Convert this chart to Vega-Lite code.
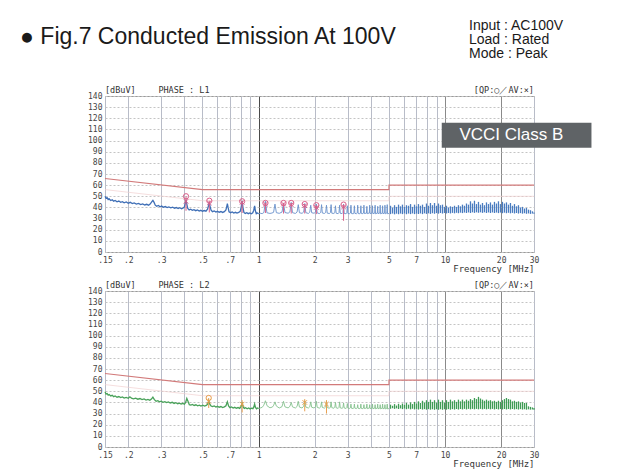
{
"$schema": "https://vega.github.io/schema/vega-lite/v6.json",
"background": "white",
"padding": {"left": 20, "top": 18, "right": 5, "bottom": 5},
"title": {"text": "● Fig.7  Conducted Emission At 100V", "anchor": "start", "frame": "bounds", "dx": -67, "dy": 30, "offset": 0, "font": "Liberation Sans", "fontSize": 23, "fontWeight": "normal", "color": "#1a1a1a"},
"spacing": 6,
"datasets": {
"lim": [{"i":0,"f":0.15,"qp":66,"av":56},{"i":1,"f":0.5,"qp":56,"av":46},{"i":2,"f":5,"qp":56,"av":46},{"i":3,"f":5,"qp":60,"av":50},{"i":4,"f":30,"qp":60,"av":50}],
"l1a": [{"f":0.150,"v":50.0},{"f":0.152,"v":48.2},{"f":0.154,"v":48.8},{"f":0.156,"v":47.0},{"f":0.158,"v":47.6},{"f":0.161,"v":46.2},{"f":0.164,"v":46.9},{"f":0.167,"v":45.6},{"f":0.170,"v":46.2},{"f":0.174,"v":45.0},{"f":0.178,"v":45.7},{"f":0.182,"v":44.6},{"f":0.186,"v":45.2},{"f":0.190,"v":44.2},{"f":0.195,"v":44.9},{"f":0.200,"v":43.8},{"f":0.205,"v":44.6},{"f":0.210,"v":43.5},{"f":0.215,"v":44.0},{"f":0.221,"v":43.0},{"f":0.227,"v":43.6},{"f":0.233,"v":42.5},{"f":0.239,"v":43.1},{"f":0.245,"v":42.2},{"f":0.251,"v":42.8},{"f":0.257,"v":42.0},{"f":0.262,"v":43.0},{"f":0.267,"v":45.0},{"f":0.271,"v":46.3},{"f":0.275,"v":44.5},{"f":0.279,"v":42.0},{"f":0.284,"v":41.0},{"f":0.290,"v":41.7},{"f":0.296,"v":40.6},{"f":0.302,"v":41.2},{"f":0.309,"v":40.2},{"f":0.316,"v":40.8},{"f":0.323,"v":39.9},{"f":0.330,"v":40.5},{"f":0.338,"v":39.6},{"f":0.346,"v":40.2},{"f":0.354,"v":39.3},{"f":0.362,"v":39.9},{"f":0.370,"v":39.0},{"f":0.378,"v":39.7},{"f":0.386,"v":38.8},{"f":0.394,"v":39.5},{"f":0.400,"v":40.5},{"f":0.404,"v":43.5},{"f":0.408,"v":47.0},{"f":0.412,"v":43.0},{"f":0.417,"v":39.0},{"f":0.424,"v":37.8},{"f":0.432,"v":38.4},{"f":0.441,"v":37.4},{"f":0.450,"v":38.0},{"f":0.460,"v":37.1},{"f":0.470,"v":37.7},{"f":0.480,"v":36.8},{"f":0.490,"v":37.4},{"f":0.500,"v":36.6},{"f":0.511,"v":37.2},{"f":0.522,"v":36.6},{"f":0.532,"v":38.5},{"f":0.539,"v":41.5},{"f":0.544,"v":44.5},{"f":0.549,"v":41.0},{"f":0.556,"v":37.5},{"f":0.566,"v":36.2},{"f":0.578,"v":36.8},{"f":0.590,"v":35.9},{"f":0.602,"v":36.5},{"f":0.615,"v":35.7},{"f":0.628,"v":36.3},{"f":0.641,"v":35.5},{"f":0.655,"v":36.2},{"f":0.668,"v":37.8},{"f":0.675,"v":41.0},{"f":0.680,"v":43.5},{"f":0.686,"v":40.0},{"f":0.694,"v":36.0},{"f":0.708,"v":35.3},{"f":0.722,"v":35.9},{"f":0.736,"v":35.0},{"f":0.751,"v":35.6},{"f":0.766,"v":34.9},{"f":0.782,"v":35.5},{"f":0.797,"v":36.5},{"f":0.807,"v":40.5},{"f":0.816,"v":46.0},{"f":0.824,"v":40.0},{"f":0.834,"v":35.5},{"f":0.848,"v":34.6},{"f":0.864,"v":35.2},{"f":0.880,"v":34.4},{"f":0.897,"v":35.0},{"f":0.914,"v":34.3},{"f":0.930,"v":35.2},{"f":0.942,"v":37.5},{"f":0.952,"v":41.5},{"f":0.961,"v":37.0},{"f":0.972,"v":34.4},{"f":0.986,"v":35.0},{"f":1.000,"v":34.3}],
"l1b": [{"f":1.0,"v":34.3},{"f":1.020,"v":34.8},{"f":1.045,"v":34.4},{"f":1.068,"v":35.5},{"f":1.088,"v":45.5},{"f":1.108,"v":35.2},{"f":1.15,"v":34.6},{"f":1.180,"v":35.0},{"f":1.203,"v":35.6},{"f":1.224,"v":43.0},{"f":1.245,"v":35.3},{"f":1.29,"v":34.7},{"f":1.335,"v":35.8},{"f":1.360,"v":44.0},{"f":1.385,"v":35.4},{"f":1.44,"v":34.8},{"f":1.472,"v":36.0},{"f":1.496,"v":44.5},{"f":1.520,"v":35.3},{"f":1.575,"v":34.6},{"f":1.608,"v":35.8},{"f":1.632,"v":42.5},{"f":1.656,"v":35.2},{"f":1.71,"v":34.7},{"f":1.745,"v":35.9},{"f":1.768,"v":43.5},{"f":1.792,"v":35.3},{"f":1.85,"v":34.6},{"f":1.882,"v":35.8},{"f":1.904,"v":42.0},{"f":1.926,"v":35.2},{"f":1.985,"v":34.8},{"f":2.018,"v":35.8},{"f":2.040,"v":43.0},{"f":2.062,"v":35.0},{"f":2.12,"v":34.5},{"f":2.155,"v":35.6},{"f":2.176,"v":42.5},{"f":2.197,"v":35.0},{"f":2.255,"v":34.6},{"f":2.290,"v":35.5},{"f":2.312,"v":42.0},{"f":2.334,"v":34.9},{"f":2.40,"v":34.5},{"f":2.427,"v":35.4},{"f":2.448,"v":42.5},{"f":2.469,"v":34.8},{"f":2.535,"v":34.6},{"f":2.562,"v":35.3},{"f":2.584,"v":41.5},{"f":2.606,"v":34.8},{"f":2.67,"v":34.4},{"f":2.698,"v":35.2},{"f":2.720,"v":42.0},{"f":2.742,"v":34.7},{"f":2.805,"v":34.5},{"f":2.834,"v":35.4},{"f":2.856,"v":43.0},{"f":2.878,"v":34.6},{"f":2.945,"v":34.3},{"f":2.972,"v":35.1},{"f":2.992,"v":41.5},{"f":3.012,"v":34.6},{"f":3.080,"v":34.4},{"f":3.108,"v":35.0},{"f":3.128,"v":42.0},{"f":3.148,"v":34.5},{"f":3.218,"v":34.3},{"f":3.244,"v":35.0},{"f":3.264,"v":41.5},{"f":3.284,"v":34.6},{"f":3.352,"v":34.4},{"f":3.380,"v":35.0},{"f":3.400,"v":42.0},{"f":3.420,"v":34.5},{"f":3.490,"v":34.3},{"f":3.516,"v":35.0},{"f":3.536,"v":41.5},{"f":3.556,"v":34.5},{"f":3.624,"v":34.4},{"f":3.652,"v":35.0},{"f":3.672,"v":42.0},{"f":3.692,"v":34.5},{"f":3.788,"v":34.9},{"f":3.808,"v":41.0},{"f":3.828,"v":34.4},{"f":3.924,"v":35.0},{"f":3.944,"v":42.0},{"f":3.964,"v":34.4},{"f":4.060,"v":35.0},{"f":4.080,"v":41.5},{"f":4.100,"v":34.4},{"f":4.196,"v":34.9},{"f":4.216,"v":42.0},{"f":4.236,"v":34.3},{"f":4.332,"v":34.9},{"f":4.352,"v":41.0},{"f":4.372,"v":34.4},{"f":4.468,"v":35.0},{"f":4.488,"v":42.0},{"f":4.508,"v":34.3},{"f":4.604,"v":34.9},{"f":4.624,"v":41.5},{"f":4.644,"v":34.4},{"f":4.740,"v":34.9},{"f":4.760,"v":42.0},{"f":4.780,"v":34.3},{"f":4.876,"v":35.0},{"f":4.896,"v":42.5},{"f":4.916,"v":34.3},{"f":5.000,"v":34.6}],
"l1c": [{"f":5.10,"lo":34.0,"hi":41.5},{"f":5.23,"lo":34.5,"hi":40.0},{"f":5.36,"lo":33.8,"hi":42.0},{"f":5.49,"lo":34.4,"hi":40.5},{"f":5.63,"lo":33.9,"hi":42.5},{"f":5.77,"lo":34.5,"hi":41.0},{"f":5.91,"lo":34.0,"hi":42.5},{"f":6.06,"lo":34.6,"hi":40.5},{"f":6.21,"lo":33.9,"hi":42.0},{"f":6.37,"lo":34.5,"hi":41.5},{"f":6.53,"lo":34.0,"hi":43.0},{"f":6.69,"lo":34.6,"hi":40.5},{"f":6.86,"lo":34.0,"hi":42.5},{"f":7.03,"lo":34.5,"hi":41.0},{"f":7.20,"lo":34.1,"hi":43.0},{"f":7.38,"lo":34.6,"hi":41.5},{"f":7.57,"lo":34.0,"hi":42.5},{"f":7.76,"lo":34.7,"hi":40.5},{"f":7.95,"lo":34.2,"hi":43.5},{"f":8.15,"lo":34.7,"hi":41.5},{"f":8.35,"lo":34.2,"hi":44.0},{"f":8.56,"lo":34.8,"hi":42.0},{"f":8.78,"lo":34.3,"hi":44.0},{"f":9.00,"lo":34.9,"hi":41.5},{"f":9.22,"lo":34.4,"hi":43.5},{"f":9.45,"lo":35.0,"hi":42.0},{"f":9.69,"lo":34.5,"hi":42.5},{"f":9.93,"lo":35.0,"hi":40.5},{"f":10.18,"lo":34.6,"hi":41.5},{"f":10.43,"lo":35.0,"hi":40.0},{"f":10.69,"lo":34.6,"hi":41.0},{"f":10.96,"lo":35.1,"hi":40.5},{"f":11.24,"lo":34.7,"hi":41.5},{"f":11.52,"lo":35.2,"hi":40.5},{"f":11.80,"lo":34.8,"hi":42.0},{"f":12.10,"lo":35.3,"hi":41.0},{"f":12.40,"lo":34.9,"hi":42.5},{"f":12.71,"lo":35.4,"hi":41.5},{"f":13.03,"lo":35.0,"hi":43.5},{"f":13.36,"lo":35.5,"hi":42.5},{"f":13.69,"lo":35.0,"hi":45.5},{"f":14.03,"lo":35.6,"hi":43.5},{"f":14.38,"lo":35.1,"hi":46.0},{"f":14.74,"lo":35.6,"hi":43.0},{"f":15.11,"lo":35.2,"hi":45.0},{"f":15.49,"lo":35.6,"hi":42.5},{"f":15.88,"lo":35.1,"hi":44.0},{"f":16.27,"lo":35.6,"hi":42.0},{"f":16.68,"lo":35.0,"hi":44.5},{"f":17.10,"lo":35.5,"hi":43.0},{"f":17.52,"lo":35.0,"hi":44.5},{"f":17.96,"lo":35.5,"hi":42.5},{"f":18.41,"lo":35.0,"hi":45.0},{"f":18.87,"lo":35.4,"hi":43.5},{"f":19.34,"lo":34.9,"hi":45.5},{"f":19.83,"lo":35.4,"hi":43.0},{"f":20.32,"lo":34.8,"hi":45.0},{"f":20.83,"lo":35.3,"hi":43.5},{"f":21.35,"lo":34.8,"hi":44.5},{"f":21.89,"lo":35.2,"hi":42.5},{"f":22.43,"lo":34.7,"hi":44.0},{"f":22.99,"lo":35.1,"hi":41.5},{"f":23.57,"lo":34.6,"hi":43.0},{"f":24.16,"lo":35.0,"hi":41.0},{"f":24.76,"lo":34.5,"hi":42.0},{"f":25.38,"lo":34.9,"hi":40.0},{"f":26.02,"lo":34.4,"hi":40.5},{"f":26.67,"lo":34.8,"hi":39.0},{"f":27.33,"lo":34.3,"hi":39.5},{"f":28.02,"lo":34.6,"hi":38.0},{"f":28.72,"lo":34.2,"hi":37.5},{"f":29.43,"lo":34.5,"hi":36.5},{"f":30.00,"lo":34.3,"hi":35.5}],
"l2a": [{"f":0.150,"v":49.5},{"f":0.152,"v":47.5},{"f":0.154,"v":48.0},{"f":0.156,"v":46.5},{"f":0.158,"v":47.0},{"f":0.161,"v":45.8},{"f":0.164,"v":46.4},{"f":0.167,"v":45.2},{"f":0.170,"v":45.8},{"f":0.174,"v":44.7},{"f":0.178,"v":45.3},{"f":0.182,"v":44.3},{"f":0.186,"v":44.9},{"f":0.190,"v":43.9},{"f":0.195,"v":44.5},{"f":0.200,"v":43.7},{"f":0.204,"v":45.0},{"f":0.208,"v":43.8},{"f":0.213,"v":43.3},{"f":0.219,"v":43.9},{"f":0.225,"v":42.9},{"f":0.231,"v":43.5},{"f":0.237,"v":42.5},{"f":0.243,"v":43.1},{"f":0.249,"v":42.1},{"f":0.255,"v":42.7},{"f":0.261,"v":41.9},{"f":0.266,"v":43.0},{"f":0.271,"v":44.8},{"f":0.276,"v":42.5},{"f":0.282,"v":41.0},{"f":0.288,"v":41.6},{"f":0.294,"v":40.5},{"f":0.300,"v":41.1},{"f":0.307,"v":40.1},{"f":0.314,"v":40.7},{"f":0.321,"v":39.8},{"f":0.328,"v":40.4},{"f":0.336,"v":39.5},{"f":0.344,"v":40.1},{"f":0.352,"v":39.1},{"f":0.360,"v":39.7},{"f":0.368,"v":38.8},{"f":0.376,"v":39.4},{"f":0.384,"v":38.5},{"f":0.392,"v":39.2},{"f":0.400,"v":38.4},{"f":0.406,"v":40.0},{"f":0.412,"v":43.5},{"f":0.418,"v":41.0},{"f":0.425,"v":38.0},{"f":0.433,"v":37.6},{"f":0.442,"v":38.2},{"f":0.451,"v":37.3},{"f":0.461,"v":37.9},{"f":0.471,"v":37.0},{"f":0.481,"v":37.6},{"f":0.491,"v":36.8},{"f":0.502,"v":37.5},{"f":0.513,"v":36.7},{"f":0.524,"v":37.3},{"f":0.533,"v":38.5},{"f":0.540,"v":41.5},{"f":0.547,"v":38.5},{"f":0.556,"v":36.8},{"f":0.566,"v":36.2},{"f":0.578,"v":36.8},{"f":0.590,"v":35.9},{"f":0.602,"v":36.5},{"f":0.615,"v":35.7},{"f":0.628,"v":36.3},{"f":0.641,"v":35.4},{"f":0.655,"v":36.0},{"f":0.668,"v":37.0},{"f":0.680,"v":40.5},{"f":0.690,"v":36.8},{"f":0.702,"v":35.3},{"f":0.716,"v":35.9},{"f":0.730,"v":35.0},{"f":0.745,"v":35.6},{"f":0.760,"v":34.8},{"f":0.776,"v":35.4},{"f":0.792,"v":34.7},{"f":0.806,"v":36.5},{"f":0.816,"v":40.0},{"f":0.826,"v":36.0},{"f":0.838,"v":34.6},{"f":0.852,"v":35.2},{"f":0.868,"v":34.3},{"f":0.884,"v":35.0},{"f":0.900,"v":34.2},{"f":0.916,"v":34.9},{"f":0.932,"v":34.4},{"f":0.943,"v":36.0},{"f":0.952,"v":38.5},{"f":0.962,"v":35.5},{"f":0.975,"v":34.3},{"f":0.988,"v":35.0},{"f":1.000,"v":34.5}],
"l2b": [{"f":1.000,"v":34.5},{"f":1.020,"v":35.0},{"f":1.045,"v":35.6},{"f":1.066,"v":37.5},{"f":1.088,"v":41.5},{"f":1.110,"v":37.0},{"f":1.150,"v":35.2},{"f":1.185,"v":35.8},{"f":1.205,"v":37.5},{"f":1.224,"v":40.5},{"f":1.244,"v":36.8},{"f":1.29,"v":35.0},{"f":1.335,"v":36.2},{"f":1.360,"v":41.0},{"f":1.385,"v":36.0},{"f":1.44,"v":35.1},{"f":1.472,"v":36.5},{"f":1.496,"v":40.0},{"f":1.520,"v":36.0},{"f":1.575,"v":35.0},{"f":1.608,"v":36.4},{"f":1.632,"v":41.0},{"f":1.656,"v":35.8},{"f":1.71,"v":35.0},{"f":1.745,"v":36.6},{"f":1.768,"v":41.5},{"f":1.792,"v":35.8},{"f":1.85,"v":35.0},{"f":1.882,"v":36.2},{"f":1.904,"v":40.5},{"f":1.926,"v":35.7},{"f":1.985,"v":35.0},{"f":2.018,"v":36.2},{"f":2.040,"v":41.0},{"f":2.062,"v":35.6},{"f":2.12,"v":34.9},{"f":2.155,"v":36.0},{"f":2.176,"v":40.5},{"f":2.197,"v":35.5},{"f":2.255,"v":34.9},{"f":2.290,"v":36.0},{"f":2.312,"v":41.5},{"f":2.334,"v":35.4},{"f":2.40,"v":34.8},{"f":2.427,"v":35.8},{"f":2.448,"v":40.5},{"f":2.469,"v":35.3},{"f":2.535,"v":34.8},{"f":2.562,"v":35.6},{"f":2.584,"v":40.0},{"f":2.606,"v":35.2},{"f":2.67,"v":34.7},{"f":2.698,"v":35.5},{"f":2.720,"v":40.5},{"f":2.742,"v":35.1},{"f":2.805,"v":34.7},{"f":2.834,"v":35.4},{"f":2.856,"v":39.5},{"f":2.878,"v":35.0},{"f":2.945,"v":34.6},{"f":2.972,"v":35.3},{"f":2.992,"v":39.0},{"f":3.012,"v":34.9},{"f":3.080,"v":34.6},{"f":3.108,"v":35.2},{"f":3.128,"v":38.5},{"f":3.148,"v":34.8},{"f":3.218,"v":34.5},{"f":3.244,"v":35.1},{"f":3.264,"v":38.5},{"f":3.284,"v":34.8},{"f":3.352,"v":34.5},{"f":3.380,"v":35.0},{"f":3.400,"v":38.0},{"f":3.420,"v":34.7},{"f":3.490,"v":34.4},{"f":3.516,"v":35.0},{"f":3.536,"v":38.5},{"f":3.556,"v":34.6},{"f":3.624,"v":34.4},{"f":3.652,"v":35.0},{"f":3.672,"v":38.0},{"f":3.692,"v":34.5},{"f":3.788,"v":35.0},{"f":3.808,"v":38.5},{"f":3.828,"v":34.4},{"f":3.924,"v":35.0},{"f":3.944,"v":38.0},{"f":3.964,"v":34.4},{"f":4.060,"v":35.0},{"f":4.080,"v":38.5},{"f":4.100,"v":34.3},{"f":4.196,"v":34.9},{"f":4.216,"v":38.0},{"f":4.236,"v":34.3},{"f":4.332,"v":34.9},{"f":4.352,"v":38.5},{"f":4.372,"v":34.3},{"f":4.468,"v":34.9},{"f":4.488,"v":38.0},{"f":4.508,"v":34.3},{"f":4.604,"v":34.9},{"f":4.624,"v":38.5},{"f":4.644,"v":34.3},{"f":4.740,"v":34.8},{"f":4.760,"v":38.0},{"f":4.780,"v":34.2},{"f":4.876,"v":34.8},{"f":4.896,"v":38.5},{"f":4.916,"v":34.2},{"f":5.000,"v":34.5}],
"l2c": [{"f":5.10,"lo":34.3,"hi":38.0},{"f":5.23,"lo":34.8,"hi":37.0},{"f":5.36,"lo":34.2,"hi":38.5},{"f":5.49,"lo":34.7,"hi":37.2},{"f":5.63,"lo":34.1,"hi":38.8},{"f":5.77,"lo":34.6,"hi":37.5},{"f":5.91,"lo":34.0,"hi":39.0},{"f":6.06,"lo":34.5,"hi":37.8},{"f":6.21,"lo":33.9,"hi":39.5},{"f":6.37,"lo":34.4,"hi":38.0},{"f":6.53,"lo":33.8,"hi":40.0},{"f":6.69,"lo":34.3,"hi":38.5},{"f":6.86,"lo":33.7,"hi":40.5},{"f":7.03,"lo":34.2,"hi":39.0},{"f":7.20,"lo":33.6,"hi":41.0},{"f":7.38,"lo":34.1,"hi":39.5},{"f":7.57,"lo":33.6,"hi":41.5},{"f":7.76,"lo":34.0,"hi":40.0},{"f":7.95,"lo":33.5,"hi":42.0},{"f":8.15,"lo":34.0,"hi":40.5},{"f":8.35,"lo":33.5,"hi":42.5},{"f":8.56,"lo":33.9,"hi":40.5},{"f":8.78,"lo":33.4,"hi":42.0},{"f":9.00,"lo":33.9,"hi":40.0},{"f":9.22,"lo":33.4,"hi":42.5},{"f":9.45,"lo":33.9,"hi":40.5},{"f":9.69,"lo":33.4,"hi":42.0},{"f":9.93,"lo":33.9,"hi":40.0},{"f":10.18,"lo":33.5,"hi":42.0},{"f":10.43,"lo":34.0,"hi":40.5},{"f":10.69,"lo":33.5,"hi":42.5},{"f":10.96,"lo":34.0,"hi":41.0},{"f":11.24,"lo":33.6,"hi":42.0},{"f":11.52,"lo":34.1,"hi":40.5},{"f":11.80,"lo":33.6,"hi":42.5},{"f":12.10,"lo":34.1,"hi":41.0},{"f":12.40,"lo":33.7,"hi":42.5},{"f":12.71,"lo":34.2,"hi":41.0},{"f":13.03,"lo":33.7,"hi":42.5},{"f":13.36,"lo":34.2,"hi":41.5},{"f":13.69,"lo":33.8,"hi":43.0},{"f":14.03,"lo":34.2,"hi":42.0},{"f":14.38,"lo":33.8,"hi":44.0},{"f":14.74,"lo":34.2,"hi":43.0},{"f":15.11,"lo":33.8,"hi":45.0},{"f":15.49,"lo":34.2,"hi":43.5},{"f":15.88,"lo":33.8,"hi":42.5},{"f":16.27,"lo":34.2,"hi":41.5},{"f":16.68,"lo":33.8,"hi":42.5},{"f":17.10,"lo":34.2,"hi":41.5},{"f":17.52,"lo":33.8,"hi":42.0},{"f":17.96,"lo":34.2,"hi":41.0},{"f":18.41,"lo":33.7,"hi":41.5},{"f":18.87,"lo":34.1,"hi":40.5},{"f":19.34,"lo":33.7,"hi":41.5},{"f":19.83,"lo":34.1,"hi":40.5},{"f":20.32,"lo":33.7,"hi":42.0},{"f":20.83,"lo":34.1,"hi":43.0},{"f":21.35,"lo":33.7,"hi":44.0},{"f":21.89,"lo":34.1,"hi":43.0},{"f":22.43,"lo":33.7,"hi":42.5},{"f":22.99,"lo":34.1,"hi":41.0},{"f":23.57,"lo":33.7,"hi":41.5},{"f":24.16,"lo":34.0,"hi":40.5},{"f":24.76,"lo":33.6,"hi":41.0},{"f":25.38,"lo":34.0,"hi":40.0},{"f":26.02,"lo":33.6,"hi":40.5},{"f":26.67,"lo":33.9,"hi":39.5},{"f":27.33,"lo":33.5,"hi":39.5},{"f":28.02,"lo":33.8,"hi":36.5},{"f":28.72,"lo":33.5,"hi":36.0},{"f":29.43,"lo":33.7,"hi":35.5},{"f":30.00,"lo":33.5,"hi":35.0}],
"m1": [{"f":0.408,"qp":50,"av":45.5,"hi":50,"lo":37},{"f":0.544,"qp":46,"av":44,"hi":46,"lo":35.5},{"f":0.816,"qp":45.5,"av":44.5,"hi":45.5,"lo":35},{"f":1.088,"qp":44,"av":43,"hi":44,"lo":35},{"f":1.36,"qp":44,"av":43,"hi":44,"lo":34.5},{"f":1.496,"qp":44,"av":42.5,"hi":44,"lo":34.5},{"f":1.768,"qp":43,"av":41.5,"hi":43,"lo":34.5},{"f":2.04,"qp":42,"av":40,"hi":42,"lo":34},{"f":2.856,"qp":42.5,"av":40.5,"hi":42.5,"lo":28}],
"m2": [{"f":0.54,"qp":44,"av":41,"hi":44,"lo":35},{"f":0.816,"qp":null,"av":38.5,"hi":42,"lo":31},{"f":1.768,"qp":null,"av":40,"hi":43,"lo":32},{"f":2.312,"qp":null,"av":38.5,"hi":42,"lo":30}]
},
"vconcat": [
{
"width": 429, "height": 156,
"title": {"text": ["Input : AC100V", "Load : Rated", " Mode : Peak"], "anchor": "start", "frame": "group", "dx": 364, "offset": 25, "font": "Liberation Sans", "fontSize": 14, "fontWeight": "normal", "lineHeight": 14, "color": "#1a1a1a"},
"layer": [
{"data": {"name": "lim"}, "mark": {"type": "line", "color": "#f0d0d0", "strokeWidth": 0.7},
 "encoding": {
  "x": {"field": "f", "type": "quantitative", "scale": {"type": "log", "domain": [0.15, 30], "nice": false},
        "axis": {"title": "Frequency [MHz]", "values": [0.15,0.2,0.3,0.4,0.5,0.6,0.7,0.8,0.9,1,2,3,4,5,6,7,8,9,10,20,30], "tickCount": 30,
                 "labelExpr": "indexof([0.4,0.6,0.8,0.9,4,6,8,9], datum.value) >= 0 ? '' : (datum.value < 1 ? replace(format(datum.value, '.2~f'), '0.', '.') : format(datum.value, 'd'))",
                 "labelFlush": false, "labelOverlap": false, "labelPadding": 4, "titleAnchor": "end", "titlePadding": 0, "titleFontSize": 9,
                 "grid": true, "gridWidth": 1,
                 "gridColor": {"condition": [{"test": "datum.value == 1", "value": "#4a4a4a"}, {"test": "datum.value == 10 || datum.value == 20", "value": "#8a8a8a"}], "value": "#b8bcc8"}}},
  "y": {"field": "av", "type": "quantitative", "scale": {"domain": [0, 140], "nice": false},
        "axis": {"title": null, "values": [0,10,20,30,40,50,60,70,80,90,100,110,120,130,140], "tickCount": 20, "labelOverlap": false, "labelSeparation": 0, "grid": true, "gridColor": "#c4c4c4", "gridDash": [2, 2], "labelPadding": 3}},
  "order": {"field": "i", "type": "quantitative"}}},
{"data": {"name": "lim"}, "mark": {"type": "line", "color": "#d27a7a", "strokeWidth": 1.1},
 "encoding": {"x": {"field": "f", "type": "quantitative"}, "y": {"field": "qp", "type": "quantitative"}, "order": {"field": "i", "type": "quantitative"}}},
{"data": {"name": "l1c"}, "mark": {"type": "rule", "color": "#4a7cc0", "strokeWidth": 1.3},
 "encoding": {"x": {"field": "f", "type": "quantitative"}, "y": {"field": "lo", "type": "quantitative"}, "y2": {"field": "hi"}}},
{"data": {"name": "l1b"}, "mark": {"type": "line", "color": "#6a92cc", "strokeWidth": 0.9},
 "encoding": {"x": {"field": "f", "type": "quantitative"}, "y": {"field": "v", "type": "quantitative"}}},
{"data": {"name": "l1a"}, "mark": {"type": "line", "color": "#3f6fb6", "strokeWidth": 1.3},
 "encoding": {"x": {"field": "f", "type": "quantitative"}, "y": {"field": "v", "type": "quantitative"}}},
{"data": {"name": "m1"}, "mark": {"type": "rule", "color": "#d9608a", "strokeWidth": 1},
 "encoding": {"x": {"field": "f", "type": "quantitative"}, "y": {"field": "hi", "type": "quantitative"}, "y2": {"field": "lo"}}},
{"data": {"name": "m1"}, "mark": {"type": "point", "shape": "circle", "filled": false, "color": "#d9608a", "strokeWidth": 1, "size": 28, "opacity": 1},
 "encoding": {"x": {"field": "f", "type": "quantitative"}, "y": {"field": "qp", "type": "quantitative"}}},
{"data": {"name": "m1"}, "mark": {"type": "point", "shape": "M-1,-1L1,1M-1,1L1,-1", "filled": false, "color": "#d9608a", "strokeWidth": 1, "size": 20, "opacity": 1},
 "encoding": {"x": {"field": "f", "type": "quantitative"}, "y": {"field": "av", "type": "quantitative"}}},
{"data": {"values": [{"f": 0.15, "t": "[dBuV]"}, {"f": 0.29, "t": "PHASE :  L1"}]},
 "mark": {"type": "text", "align": "left", "baseline": "bottom", "dy": -1, "font": "DejaVu Sans Mono", "fontSize": 8.5, "color": "#333"},
 "encoding": {"x": {"field": "f", "type": "quantitative"}, "y": {"datum": 140}, "text": {"field": "t"}}},
{"data": {"values": [{"f": 30, "t": "[QP:○／AV:×]"}]},
 "mark": {"type": "text", "align": "right", "baseline": "bottom", "dy": -1, "font": "DejaVu Sans Mono", "fontSize": 8.5, "color": "#333"},
 "encoding": {"x": {"field": "f", "type": "quantitative"}, "y": {"datum": 140}, "text": {"field": "t"}}},
{"data": {"values": [{"f1": 9.6, "f2": 61, "y1": 93.5, "y2": 116}]},
 "mark": {"type": "rect", "color": "#5f6366"},
 "encoding": {"x": {"field": "f1", "type": "quantitative"}, "x2": {"field": "f2"}, "y": {"field": "y1", "type": "quantitative"}, "y2": {"field": "y2"}}},
{"data": {"values": [{"f": 22.7, "v": 104.7, "t": "VCCI Class B"}]},
 "mark": {"type": "text", "align": "center", "baseline": "middle", "font": "Liberation Sans", "fontSize": 17, "color": "#ffffff"},
 "encoding": {"x": {"field": "f", "type": "quantitative"}, "y": {"field": "v", "type": "quantitative"}, "text": {"field": "t"}}}
]
},
{
"width": 429, "height": 156,
"layer": [
{"data": {"name": "lim"}, "mark": {"type": "line", "color": "#f0d0d0", "strokeWidth": 0.7},
 "encoding": {
  "x": {"field": "f", "type": "quantitative", "scale": {"type": "log", "domain": [0.15, 30], "nice": false},
        "axis": {"title": "Frequency [MHz]", "values": [0.15,0.2,0.3,0.4,0.5,0.6,0.7,0.8,0.9,1,2,3,4,5,6,7,8,9,10,20,30], "tickCount": 30,
                 "labelExpr": "indexof([0.4,0.6,0.8,0.9,4,6,8,9], datum.value) >= 0 ? '' : (datum.value < 1 ? replace(format(datum.value, '.2~f'), '0.', '.') : format(datum.value, 'd'))",
                 "labelFlush": false, "labelOverlap": false, "labelPadding": 4, "titleAnchor": "end", "titlePadding": 0, "titleFontSize": 9,
                 "grid": true, "gridWidth": 1,
                 "gridColor": {"condition": [{"test": "datum.value == 1", "value": "#4a4a4a"}, {"test": "datum.value == 10 || datum.value == 20", "value": "#8a8a8a"}], "value": "#b8bcc8"}}},
  "y": {"field": "av", "type": "quantitative", "scale": {"domain": [0, 140], "nice": false},
        "axis": {"title": null, "values": [0,10,20,30,40,50,60,70,80,90,100,110,120,130,140], "tickCount": 20, "labelOverlap": false, "labelSeparation": 0, "grid": true, "gridColor": "#c4c4c4", "gridDash": [2, 2], "labelPadding": 3}},
  "order": {"field": "i", "type": "quantitative"}}},
{"data": {"name": "lim"}, "mark": {"type": "line", "color": "#d27a7a", "strokeWidth": 1.1},
 "encoding": {"x": {"field": "f", "type": "quantitative"}, "y": {"field": "qp", "type": "quantitative"}, "order": {"field": "i", "type": "quantitative"}}},
{"data": {"name": "l2c"}, "mark": {"type": "rule", "color": "#3f9c55", "strokeWidth": 1.3},
 "encoding": {"x": {"field": "f", "type": "quantitative"}, "y": {"field": "lo", "type": "quantitative"}, "y2": {"field": "hi"}}},
{"data": {"name": "l2b"}, "mark": {"type": "line", "color": "#86c28f", "strokeWidth": 0.9},
 "encoding": {"x": {"field": "f", "type": "quantitative"}, "y": {"field": "v", "type": "quantitative"}}},
{"data": {"name": "l2a"}, "mark": {"type": "line", "color": "#49a25a", "strokeWidth": 1.3},
 "encoding": {"x": {"field": "f", "type": "quantitative"}, "y": {"field": "v", "type": "quantitative"}}},
{"data": {"name": "m2"}, "mark": {"type": "rule", "color": "#e8a050", "strokeWidth": 1},
 "encoding": {"x": {"field": "f", "type": "quantitative"}, "y": {"field": "hi", "type": "quantitative"}, "y2": {"field": "lo"}}},
{"data": {"name": "m2"}, "mark": {"type": "point", "shape": "circle", "filled": false, "color": "#e8a050", "strokeWidth": 1, "size": 28, "opacity": 1},
 "encoding": {"x": {"field": "f", "type": "quantitative"}, "y": {"field": "qp", "type": "quantitative"}}},
{"data": {"name": "m2"}, "mark": {"type": "point", "shape": "M-1,-1L1,1M-1,1L1,-1", "filled": false, "color": "#e8a050", "strokeWidth": 1, "size": 20, "opacity": 1},
 "encoding": {"x": {"field": "f", "type": "quantitative"}, "y": {"field": "av", "type": "quantitative"}}},
{"data": {"values": [{"f": 0.15, "t": "[dBuV]"}, {"f": 0.29, "t": "PHASE :  L2"}]},
 "mark": {"type": "text", "align": "left", "baseline": "bottom", "dy": -1, "font": "DejaVu Sans Mono", "fontSize": 8.5, "color": "#333"},
 "encoding": {"x": {"field": "f", "type": "quantitative"}, "y": {"datum": 140}, "text": {"field": "t"}}},
{"data": {"values": [{"f": 30, "t": "[QP:○／AV:×]"}]},
 "mark": {"type": "text", "align": "right", "baseline": "bottom", "dy": -1, "font": "DejaVu Sans Mono", "fontSize": 8.5, "color": "#333"},
 "encoding": {"x": {"field": "f", "type": "quantitative"}, "y": {"datum": 140}, "text": {"field": "t"}}}
]
}
],
"config": {
 "view": {"stroke": "#9a9a9a", "strokeWidth": 1},
 "axis": {"labelFont": "DejaVu Sans Mono", "labelFontSize": 8, "labelColor": "#444", "ticks": false, "domain": false, "titleFont": "DejaVu Sans Mono", "titleFontWeight": "normal", "titleColor": "#333"},
 "axisY": {"labelOverlap": false, "labelSeparation": 0}
}
}
